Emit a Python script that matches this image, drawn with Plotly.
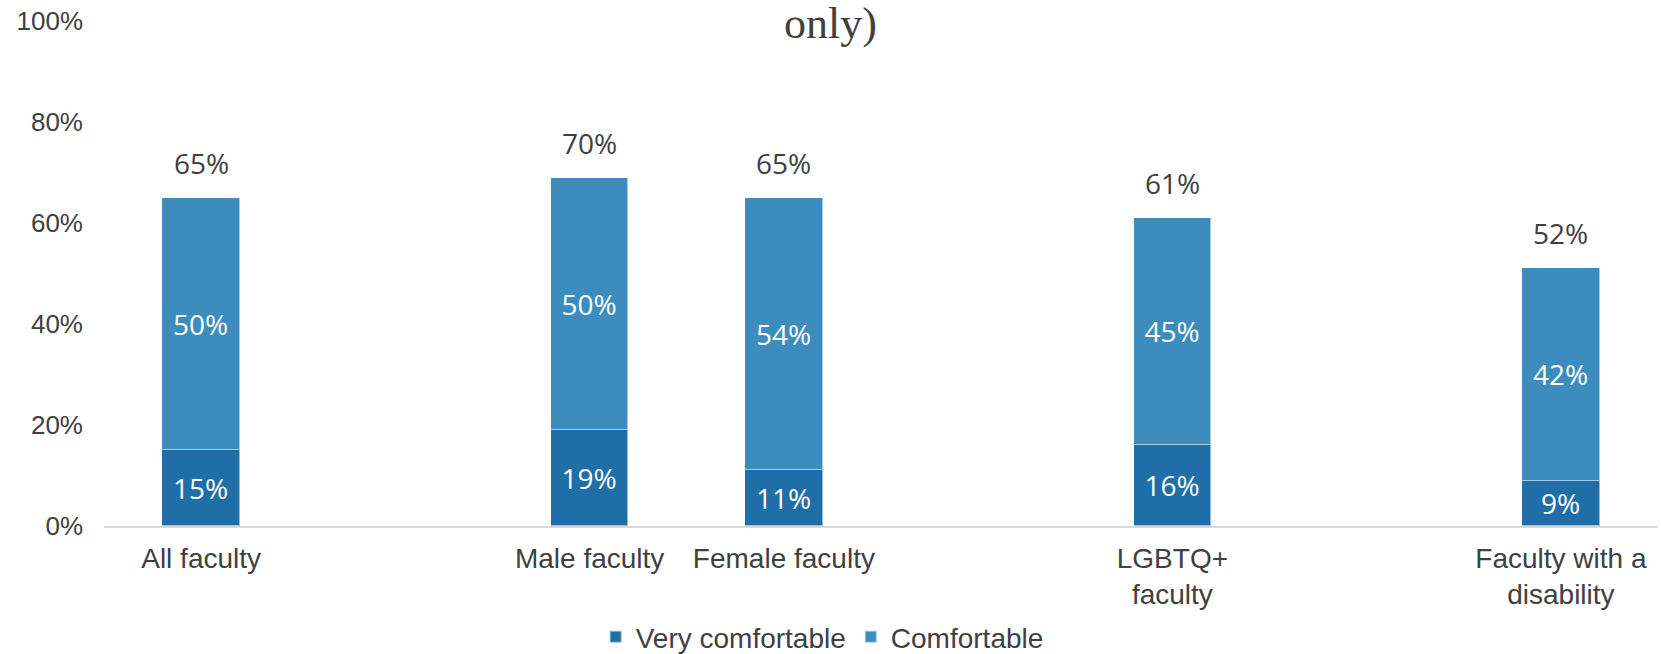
import plotly.graph_objects as go

# ---- data ----
categories = ["All faculty", "Male faculty", "Female faculty",
              "LGBTQ+<br>faculty", "Faculty with a<br>disability"]
very_comfortable = [15, 19, 11, 16, 9]
comfortable = [50, 50, 54, 45, 42]
total_labels = [65, 70, 65, 61, 52]
y_ticks = [0, 20, 40, 60, 80, 100]

# ---- layout helpers (slot positions leave gaps between groups) ----
slots = [0, 2, 3, 5, 7]
dark = "#1f6ea8"
light = "#3c8dbe"
txt = "#404040"
label_font = dict(family="Open Sans", size=28)

fig = go.Figure()
fig.add_trace(go.Bar(
    x=slots, y=[v / 100 for v in very_comfortable], name="Very comfortable",
    marker=dict(color=dark, line=dict(color="rgba(255,255,255,0.55)", width=1)),
    width=0.4, text=[f"{v}%" for v in very_comfortable],
    textposition="inside", insidetextanchor="middle",
    textfont=dict(color="white", **label_font), hoverinfo="skip",
))
fig.add_trace(go.Bar(
    x=slots, y=[v / 100 for v in comfortable], name="Comfortable",
    marker=dict(color=light, line=dict(color="rgba(255,255,255,0.55)", width=1)),
    width=0.4, text=[f"{v}%" for v in comfortable],
    textposition="inside", insidetextanchor="middle",
    textfont=dict(color="white", **label_font), hoverinfo="skip",
))

for s, a, b, t in zip(slots, very_comfortable, comfortable, total_labels):
    fig.add_annotation(x=s, y=(a + b) / 100, text=f"{t}%", showarrow=False,
                       xref="x", yref="y", yanchor="bottom", yshift=14,
                       font=dict(color=txt, **label_font))

fig.update_layout(
    width=1661, height=654,
    barmode="stack",
    plot_bgcolor="white", paper_bgcolor="white",
    margin=dict(l=104, r=3, t=21, b=128, autoexpand=False),
    title=dict(text="only)", x=0.5, xanchor="center", xref="container",
               y=1 - 23 / 654, yanchor="middle", yref="container",
               font=dict(family="Liberation Serif", size=44, color="#404040")),
    legend=dict(orientation="h", x=0.495, xanchor="center", xref="container",
                y=1 - 612 / 654, yanchor="top", yref="container",
                font=dict(family="Liberation Sans", size=28, color=txt),
                traceorder="normal", itemsizing="constant"),
    xaxis=dict(range=[-0.5, 7.5], tickvals=slots, ticktext=categories,
               showline=True, linecolor="#d9d9d9", linewidth=2,
               showgrid=False, zeroline=False, ticks="",
               tickfont=dict(family="Liberation Sans", size=28, color=txt),
               ticklabelstandoff=6, fixedrange=True),
    yaxis=dict(range=[0, 1], tickvals=[v / 100 for v in y_ticks],
               ticktext=[f"{v}%" for v in y_ticks],
               showgrid=False, zeroline=False, showline=False, ticks="",
               tickfont=dict(family="Liberation Sans", size=26, color=txt),
               ticklabelstandoff=20, fixedrange=True),
    bargap=0,
)

fig.write_html("out.html",
               config={"displayModeBar": False},
               post_script="document.body.style.margin='0';"
                           "document.body.style.overflow='hidden';")
